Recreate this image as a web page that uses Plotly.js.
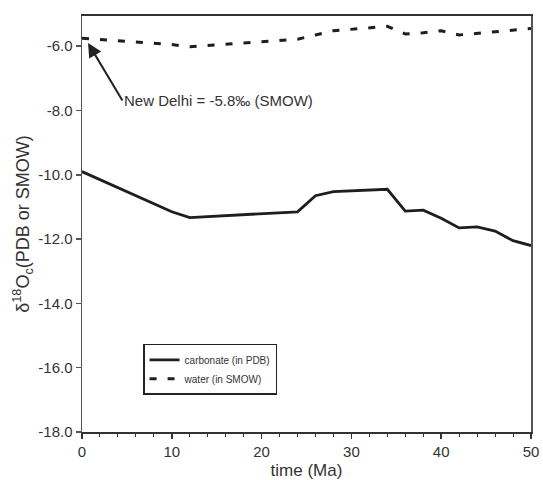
<!DOCTYPE html>
<html>
<head>
<meta charset="utf-8">
<script src="https://cdn.plot.ly/plotly-3.0.1.min.js"></script>
<style>html,body{margin:0;padding:0;background:#fff;}#chart{width:543px;height:480px;}</style>
</head>
<body>
<div id="chart"></div>
<script>
var timeMa = [0, 10, 12, 24, 26, 28, 34, 36, 38, 40, 42, 44, 46, 48, 50];
var carbonatePDB = [-9.9, -11.15, -11.33, -11.15, -10.65, -10.52, -10.45, -11.13, -11.1, -11.35, -11.65, -11.62, -11.75, -12.05, -12.2];
var waterSMOW = [-5.75, -5.95, -6.02, -5.78, -5.65, -5.52, -5.38, -5.62, -5.58, -5.52, -5.65, -5.6, -5.55, -5.48, -5.45];
var yTicks = [-6, -8, -10, -12, -14, -16, -18];
var yTickLabels = ['-6.0', '-8.0', '-10.0', '-12.0', '-14.0', '-16.0', '-18.0'];
var xTicks = [0, 10, 20, 30, 40, 50];
var xTickLabels = ['0', '10', '20', '30', '40', '50'];

var traces = [
  {x: timeMa, y: carbonatePDB, mode: 'lines', name: 'carbonate (in PDB)',
   line: {color: '#1e1e1e', width: 2.8}},
  {x: timeMa, y: waterSMOW, mode: 'lines', name: 'water (in SMOW)',
   line: {color: '#1e1e1e', width: 3, dash: '7px,11px'}}
];

var layout = {
  width: 543, height: 480,
  margin: {l: 82, r: 12, t: 16, b: 48},
  paper_bgcolor: '#fff', plot_bgcolor: '#fff',
  font: {family: 'Liberation Sans, Arial, sans-serif', color: '#333', size: 15},
  showlegend: true,
  legend: {x: 0.136, y: 0.212, xanchor: 'left', yanchor: 'top',
    bgcolor: '#fff', bordercolor: '#222', borderwidth: 1.5,
    font: {size: 10, color: '#333'}, tracegroupgap: 0, itemwidth: 30},
  xaxis: {
    range: [0, 50], tickvals: xTicks, ticktext: xTickLabels, ticks: 'outside', ticklen: 5, tickwidth: 1.5,
    tickcolor: '#333', showgrid: false, zeroline: false,
    showline: true, linecolor: '#333', linewidth: 2, mirror: true,
    minor: {dtick: 2, ticks: 'outside', ticklen: 3, tickcolor: '#333', tickwidth: 1},
    title: {text: 'time (Ma)', font: {size: 17}, standoff: 7},
    tickfont: {size: 15}
  },
  yaxis: {
    range: [-18, -5.06], tickvals: yTicks, ticktext: yTickLabels, ticks: 'outside', ticklen: 5,
    tickwidth: 1.5, tickcolor: '#555', showgrid: false, zeroline: false,
    showline: true, linecolor: '#555', linewidth: 1.5, mirror: true,
    title: {text: 'δ<sup>18</sup>O<sub>c</sub>(PDB or SMOW)', font: {size: 18}, standoff: 4},
    tickfont: {size: 15}
  },
  annotations: [
    {x: 0.67, y: -5.9, ax: 4.5, ay: -7.69, axref: 'x', ayref: 'y', xref: 'x', yref: 'y',
     xanchor: 'left', yanchor: 'middle',
     text: 'New Delhi = -5.8‰ (SMOW)', showarrow: true, arrowhead: 2, arrowsize: 1.4,
     arrowwidth: 2, arrowcolor: '#222', font: {size: 15, color: '#333'}}
  ]
};

Plotly.newPlot('chart', traces, layout, {displayModeBar: false, staticPlot: true});
</script>
</body>
</html>
